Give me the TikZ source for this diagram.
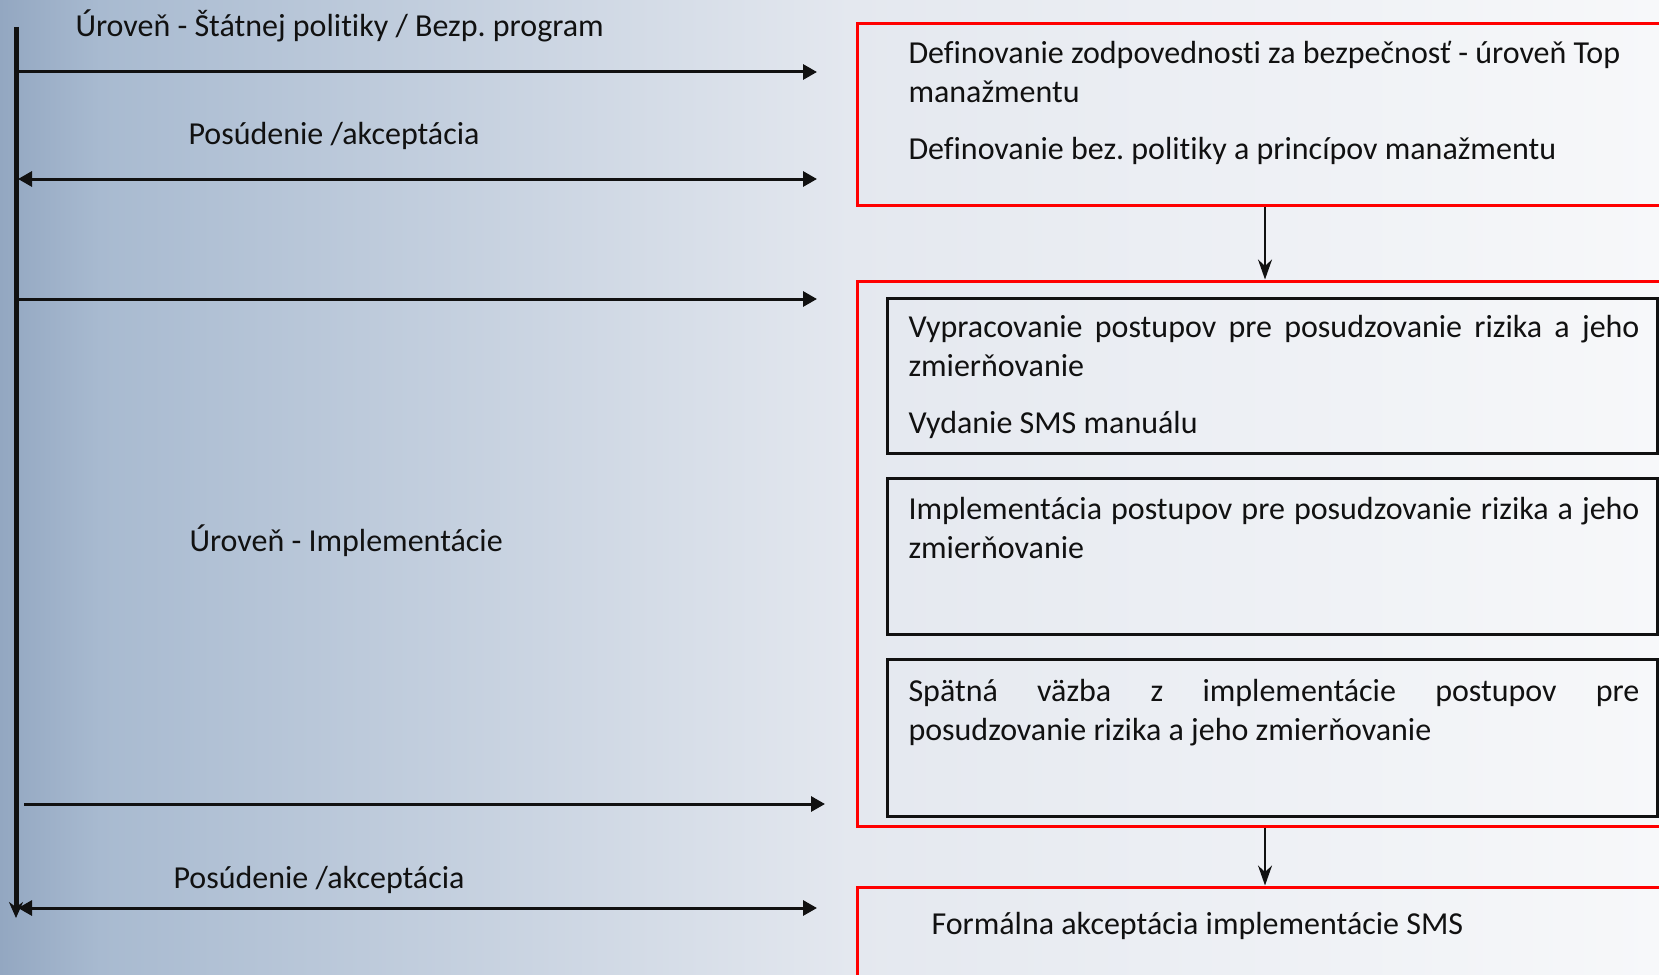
\documentclass[tikz,border=0pt]{standalone}
\usepackage{fontspec}
\setmainfont{Carlito}[Ligatures=NoCommon]
\usetikzlibrary{arrows.meta, positioning, fit}
\definecolor{cred}{HTML}{FF0000}
\definecolor{cink}{HTML}{111111}
\definecolor{bgdark}{HTML}{93A7C1}
\definecolor{bgmid}{HTML}{A8BAD0}
\definecolor{bglight}{HTML}{E4E8EF}
\definecolor{bgwhite}{HTML}{F7F8FA}
\hyphenpenalty=10000
\exhyphenpenalty=10000
\frenchspacing
\tikzset{
  every picture/.style={line width=1.5pt},
  lbl/.style={anchor=base west, inner sep=0pt, font=\fontsize{16pt}{19.5pt}\selectfont, text=cink},
  para/.style={lbl, text width=365.5pt, align=#1},
  para/.default={flush left},
  redbox/.style={draw=cred, line width=1.5pt, inner sep=0pt},
  blackbox/.style={draw=cink, line width=1.5pt, inner sep=0pt},
  flow/.style={-{Triangle[length=7pt, width=7.5pt]}, draw=cink, line width=1.5pt},
  back/.style={{Triangle[length=7pt, width=7.5pt]}-{Triangle[length=7pt, width=7.5pt]}, draw=cink, line width=1.5pt},
  down/.style={-{Stealth[length=10pt, width=7pt]}, draw=cink, line width=1pt},
  axis/.style={-{Stealth[length=8pt, width=7pt]}, draw=cink, line width=2.5pt},
}

\begin{document}
\begin{tikzpicture}[x=0.5pt, y=-0.5pt]
  \clip (0,0) rectangle (1659,974);
  % background
  \fill[left color=bgdark, right color=bgmid] (0,0) rectangle (100,974);
  \fill[left color=bgmid, right color=bglight] (100,0) rectangle (850,974);
  \fill[left color=bglight, right color=bgwhite] (850,0) rectangle (1659,974);

  % time axis on the left
  \coordinate (axtop) at (16,27);
  \coordinate (axbot) at (16,918);
  \draw[axis] (axtop) -- (axbot);

  \node[lbl] (statelvl) at (74,37) {Úroveň - Štátnej politiky / Bezp. program};
  \node[lbl] (review1) at (187,144) {Posúdenie /akceptácia};
  \node[lbl] (implvl) at (188,551) {Úroveň - Implementácie};
  \node[lbl] (review2) at (172,888) {Posúdenie /akceptácia};

  \foreach \i/\y/\xs/\xe/\st in {1/72/18/817/flow, 2/179/18/817/back, 3/299/18/817/flow, 4/804/24/825/flow, 5/908/18/817/back} {
    \coordinate (s\i) at (\xs,\y);
    \coordinate (e\i) at (\xe,\y);
    \draw[\st] (s\i) -- (e\i);
  }

  % boxes on the right
  \node[redbox, fit={(857,24) (1673,205)}] (top) {};
  \node[redbox, fit={(857,281) (1673,826)}] (impl) {};
  \node[redbox, fit={(857,887) (1673,990)}] (accept) {};
  \node[blackbox, fit={(887,298) (1657,453)}] (proc) {};
  \node[blackbox, fit={(887,478) (1657,634)}] (apply) {};
  \node[blackbox, fit={(887,659) (1657,816)}] (feedback) {};

  \node[para, text width=400pt] (toptxt) at (907,64) {Definovanie zodpovednosti za bezpečnosť - úroveň Top\\ manažmentu\\[9pt] Definovanie bez. politiky a princípov manažmentu};
  \node[para=justify] (proctxt) at (907,337) {Vypracovanie postupov pre posudzovanie rizika a jeho\linebreak zmierňovanie\\[9pt] Vydanie SMS manuálu};
  \node[para=justify] (applytxt) at (907,519) {Implementácia postupov pre posudzovanie rizika a jeho\linebreak zmierňovanie};
  \node[para=justify] (feedbacktxt) at (907,701) {Spätná väzba z implementácie postupov pre\linebreak posudzovanie rizika a jeho zmierňovanie};
  \node[lbl] (accepttxt) at (930,934) {Formálna akceptácia implementácie SMS};

  \draw[down] (top.south) -- (impl.north);
  \draw[down] (impl.south) -- (accept.north);
\end{tikzpicture}
\end{document}
